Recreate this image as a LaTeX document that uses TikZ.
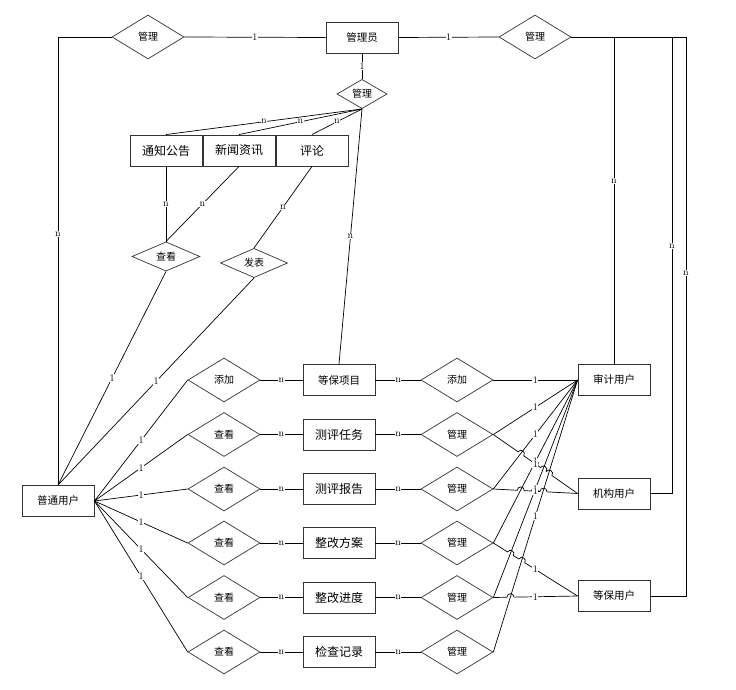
\documentclass[tikz,border=0pt]{standalone}
\usepackage{fontspec}
\newfontfamily\cjk{Noto Sans CJK SC}
\usetikzlibrary{shapes.geometric,calc}
\begin{document}
\begin{tikzpicture}[x=1pt,y=-1pt,
  ent/.style={draw=black!80, line width=0.9pt, fill=white, minimum width=72pt, minimum height=31pt, inner sep=0pt, font=\cjk\fontsize{10.5}{12}\selectfont},
  entbig/.style={ent, font=\cjk\fontsize{12}{14}\selectfont},
  rel/.style={diamond, draw=black!80, line width=0.7pt, fill=white, minimum width=72pt, minimum height=44pt, inner sep=0pt, font=\cjk\fontsize{10}{12}\selectfont},
  relsmall/.style={rel, minimum width=50pt, minimum height=28pt},
  lbl/.style={fill=white, inner sep=0.5pt, font=\fontsize{10}{11}\selectfont},
  conn/.style={draw=black, line width=0.7pt},
  hop/.style={bend left=90, looseness=1.7}
]
\useasboundingbox (0,0) rectangle (736,690);

% ---------- entities and relationships ----------
\node[rel] (mgrL) at (148,37) {管理};
\node[ent] (admin) at (362,37.5) {管理员};
\node[rel] (mgrR) at (535,37) {管理};
\node[relsmall] (mgrA) at (362,94) {管理};

\node[entbig] (notice) at (166,150.5) {通知公告};
\node[entbig] (news) at (239,150.5) {新闻资讯};
\node[entbig] (comment) at (312,150.5) {评论};

\node[relsmall, minimum width=68pt, minimum height=27pt] (viewT) at (166,256.5) {查看};
\node[relsmall, minimum width=67pt, minimum height=28pt] (post) at (254,263) {发表};

\node[ent] (user) at (58,501) {普通用户};

\node[rel] (lv1) at (224,380) {添加};
\node[rel] (lv2) at (224,434.5) {查看};
\node[rel] (lv3) at (224,489) {查看};
\node[rel] (lv4) at (224,543) {查看};
\node[rel] (lv5) at (224,597.5) {查看};
\node[rel] (lv6) at (224,652) {查看};

\node[ent] (e1) at (339,380) {等保项目};
\node[entbig] (e2) at (339,434.5) {测评任务};
\node[entbig] (e3) at (339,489) {测评报告};
\node[entbig] (e4) at (339,543) {整改方案};
\node[entbig] (e5) at (339,597.5) {整改进度};
\node[entbig] (e6) at (339,652) {检查记录};

\node[rel] (rv1) at (457,380) {添加};
\node[rel] (rv2) at (457,434.5) {管理};
\node[rel] (rv3) at (457,489) {管理};
\node[rel] (rv4) at (457,543) {管理};
\node[rel] (rv5) at (457,597.5) {管理};
\node[rel] (rv6) at (457,652) {管理};

\node[ent] (audit) at (614,380) {审计用户};
\node[ent] (org) at (614,493.5) {机构用户};
\node[ent] (deng) at (614,596) {等保用户};

\coordinate (kB) at (672,493.5);
\coordinate (kC) at (686,596);

% ---------- top part ----------
\draw[conn] (mgrL.west) -| node[lbl,pos=0.72]{n} (user.north);
\draw[conn] (mgrL.east) -- node[lbl]{1} (admin.west);
\draw[conn] (admin.east) -- node[lbl]{1} (mgrR.west);
\draw[conn] (mgrR.east) -| node[lbl,pos=0.72]{n} (audit.north);
\draw[conn] (mgrR.east) -| node[lbl,pos=0.729]{n} (kB) -- (org.east);
\draw[conn] (mgrR.east) -| node[lbl,pos=0.711]{n} (kC) -- (deng.east);

\draw[conn] (admin.south) -- node[lbl]{1} (mgrA.north);
\draw[conn] (mgrA.south) -- node[lbl]{n} (notice.north);
\draw[conn] (mgrA.south) -- node[lbl]{n} (news.north);
\draw[conn] (mgrA.south) -- node[lbl]{n} (comment.north);
\draw[conn] (mgrA.south) -- node[lbl]{n} (e1.north);

\draw[conn] (notice.south) -- node[lbl]{n} (viewT.north);
\draw[conn] (news.south) -- node[lbl]{n} (viewT.north);
\draw[conn] (comment.south) -- node[lbl]{n} (post.north);
\draw[conn] (viewT.south) -- node[lbl]{1} (user.north);
\draw[conn] (post.south) -- node[lbl]{1} (user.north);

% ---------- rows ----------
\foreach \i in {1,...,6}{
  \draw[conn] (user.east) -- node[lbl]{1} (lv\i.west);
  \draw[conn] (lv\i.east) -- node[lbl]{n} (e\i.west);
  \draw[conn] (e\i.east) -- node[lbl]{n} (rv\i.west);
}

% ---------- right cluster: lines first, labels afterwards ----------
\foreach \i in {1,...,6}{
  \draw[conn] (rv\i.east) -- (audit.west);
}
\draw[conn] (rv2.east)
  -- ($(rv2.east)!30.1pt!(org.west)$) to[hop] ($(rv2.east)!37.1pt!(org.west)$)
  -- ($(rv2.east)!47.1pt!(org.west)$) to[hop] ($(rv2.east)!54.1pt!(org.west)$)
  -- ($(rv2.east)!57.5pt!(org.west)$) to[hop] ($(rv2.east)!64.5pt!(org.west)$)
  to[hop] ($(rv2.east)!71.5pt!(org.west)$)
  -- (org.west);
\draw[conn] (rv3.east)
  -- ($(rv3.east)!23.9pt!(org.west)$) to[hop] ($(rv3.east)!30.9pt!(org.west)$)
  -- ($(rv3.east)!38.1pt!(org.west)$) to[hop] ($(rv3.east)!45.1pt!(org.west)$)
  -- ($(rv3.east)!46.7pt!(org.west)$) to[hop] ($(rv3.east)!53.7pt!(org.west)$)
  -- (org.west);
\draw[conn] (rv4.east)
  -- ($(rv4.east)!16.7pt!(deng.west)$) to[hop] ($(rv4.east)!23.7pt!(deng.west)$)
  -- ($(rv4.east)!30.1pt!(deng.west)$) to[hop] ($(rv4.east)!37.1pt!(deng.west)$)
  -- (deng.west);
\draw[conn] (rv5.east)
  -- ($(rv5.east)!13.6pt!(deng.west)$) to[hop] ($(rv5.east)!20.6pt!(deng.west)$)
  -- (deng.west);

\foreach \i in {1,...,6}{
  \path (rv\i.east) -- node[lbl]{1} (audit.west);
}
\path (rv2.east) -- node[lbl]{1} (org.west);
\path (rv3.east) -- node[lbl]{1} (org.west);
\path (rv4.east) -- node[lbl]{1} (deng.west);
\path (rv5.east) -- node[lbl]{1} (deng.west);
\end{tikzpicture}
\end{document}
